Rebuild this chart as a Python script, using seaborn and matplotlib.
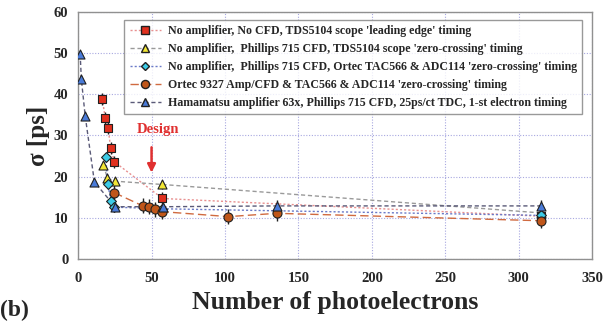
import matplotlib
matplotlib.use("Agg")
import matplotlib.pyplot as plt
import seaborn as sns
import pandas as pd
from matplotlib.lines import Line2D

# ---------------- data ----------------
labels = [
    "No amplifier, No CFD, TDS5104 scope 'leading edge' timing",
    "No amplifier,  Phillips 715 CFD, TDS5104 scope 'zero-crossing' timing",
    "No amplifier,  Phillips 715 CFD, Ortec TAC566 & ADC114 'zero-crossing' timing",
    "Ortec 9327 Amp/CFD & TAC566 & ADC114 'zero-crossing' timing",
    "Hamamatsu amplifier 63x, Phillips 715 CFD, 25ps/ct TDC, 1-st electron timing",
]

red_x = [16.5, 18.4, 20.4, 22.2, 24.7, 57.4, 315]
red_y = [38.9, 34.3, 31.9, 26.9, 23.6, 14.7, 10.4]
red_err = [1.5, 1.5, 1.5, 1.5, 1.5, 1.5, 1.5]

yellow_x = [17.2, 20.0, 25.2, 57.4, 315]
yellow_y = [22.8, 19.6, 18.9, 18.1, 11.2]
yellow_err = [1.0, 1.0, 1.0, 1.0, 1.0]

cyan_x = [18.8, 20.2, 22.4, 24.5, 57.4, 315]
cyan_y = [24.8, 18.1, 14.2, 12.6, 12.2, 10.6]
cyan_err = [1.0, 1.0, 1.0, 1.0, 1.0, 1.0]

orange_x = [24.7, 44.0, 48.3, 52.6, 57.4, 102.3, 135.2, 315]
orange_y = [16.1, 12.9, 12.7, 12.1, 11.5, 10.3, 11.1, 9.3]
orange_err = [1.8, 1.8, 1.8, 1.8, 1.8, 1.8, 1.8, 1.8]

blue_x = [1.4, 2.2, 4.8, 11.1, 25.2, 58.0, 135.2, 315]
blue_y = [49.8, 43.7, 34.8, 18.7, 12.7, 12.7, 12.9, 12.9]
blue_err = [0, 0, 0, 0, 0, 0, 1.5, 1.5]

design_x = 50
xticks = [0, 50, 100, 150, 200, 250, 300, 350]
yticks = [0, 10, 20, 30, 40, 50, 60]

# ---------------- style ----------------
sns.set_style("white")
plt.rcParams["font.family"] = ["Liberation Serif", "DejaVu Serif"]
plt.rcParams["font.weight"] = "bold"

series = [
    (red_x, red_y, red_err, "s", "#E0301E", "#E89090", (0, (1.5, 1.5)), 6.0),
    (yellow_x, yellow_y, yellow_err, "^", "#F2E634", "#9A9A9A", (0, (3, 2)), 6.5),
    (cyan_x, cyan_y, cyan_err, "D", "#3CCBE6", "#6A7AC8", (0, (1.5, 1.5)), 5.0),
    (orange_x, orange_y, orange_err, "o", "#C0561A", "#D06A40", (0, (6, 3)), 6.5),
    (blue_x, blue_y, blue_err, "^", "#4A7BD8", "#5A5A78", (0, (3, 2)), 6.5),
]

fig = plt.figure(figsize=(6.15, 3.21), dpi=100)
ax = fig.add_axes([0.127, 0.193, 0.836, 0.770])

handles = []
for i, (xs, ys, es, mk, fc, lc, ls, ms) in enumerate(series):
    df = pd.DataFrame({"x": xs, "y": ys})
    sns.lineplot(data=df, x="x", y="y", ax=ax, color=lc, linestyle=ls,
                 linewidth=1.0, sort=False, estimator=None, zorder=2 + i)
    ax.errorbar(xs, ys, yerr=es, fmt="none", ecolor="#202020", elinewidth=1.0,
                capsize=0, zorder=7)
    sns.scatterplot(data=df, x="x", y="y", ax=ax, marker=mk, color=fc,
                    edgecolor="#202020", linewidth=0.8, s=ms ** 2, zorder=8 + i)
    handles.append(Line2D([0], [0], color=lc, linestyle=ls, linewidth=1.0,
                          marker=mk, markerfacecolor=fc, markeredgecolor="#202020",
                          markersize=ms * 0.9))

ax.set_xlim(0, 350)
ax.set_ylim(0, 60)
ax.set_xticks(xticks)
ax.set_yticks(yticks)
ax.tick_params(axis="both", labelsize=10.5, length=3, direction="out", color="#808080")
ax.tick_params(axis="x", pad=6)
ax.tick_params(axis="y", pad=4)
for lab in ax.get_xticklabels() + ax.get_yticklabels():
    lab.set_fontweight("bold")
ax.grid(True, color="#A8A8E0", linestyle=(0, (1, 1.5)), linewidth=0.8)
for sp in ax.spines.values():
    sp.set_color("#909090")
    sp.set_linewidth(1.0)

ax.set_xlabel("Number of photoelectrons", fontsize=18.5, fontweight="bold", labelpad=5)
ax.set_ylabel("σ [ps]", fontsize=18, fontweight="bold", labelpad=3)

# Design annotation
ax.annotate("", xy=(design_x, 20.3), xytext=(design_x, 27.8),
            arrowprops=dict(arrowstyle="-|>", color="#E03030", lw=1.8,
                            mutation_scale=12))
ax.text(design_x + 4.5, 31.5, "Design", color="#E03030", fontsize=10.5,
        fontweight="bold", ha="center", va="center")

leg = ax.legend(handles, labels, loc="upper left", bbox_to_anchor=(0.078, 0.992),
                frameon=True, fancybox=False, handlelength=2.6,
                handletextpad=0.6, borderpad=0.45, labelspacing=0.5,
                prop={"weight": "bold", "size": 8.6})
leg.get_frame().set_edgecolor("#808080")
leg.get_frame().set_linewidth(1.0)

fig.text(0.0, 0.0, "(b)", fontsize=17, fontweight="bold", ha="left", va="bottom")

fig.savefig("out.png", dpi=100)
